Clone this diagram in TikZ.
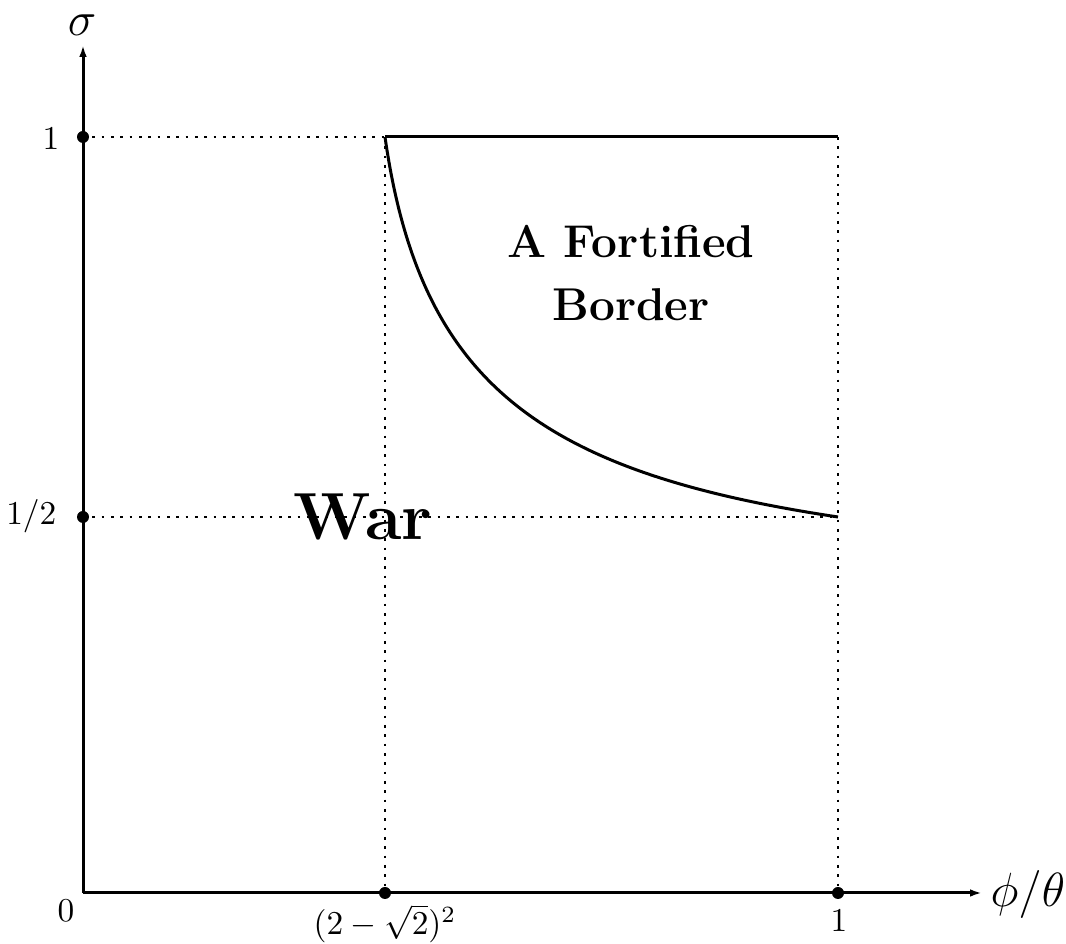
\documentclass[tikz,border=0pt]{standalone}
\usetikzlibrary{arrows.meta}
\begin{document}
\begin{tikzpicture}[x=0.3pt,y=-0.3pt,
  axis/.style={line width=0.9pt,-{Latex[length=3.6pt,width=2.3pt]}},
  guide/.style={line width=0.8pt,dash pattern=on 0.8pt off 2pt},
  bound/.style={line width=0.9pt},
  dot/.style={circle,fill=black,inner sep=0pt,minimum size=3.6pt},
  tick/.style={inner sep=0pt,font=\fontsize{9.6}{12}\selectfont},
  axlab/.style={inner sep=0pt,font=\fontsize{14}{17}\selectfont},
  region/.style={inner sep=0pt,font=\fontsize{13.8}{16}\selectfont\bfseries},
  bigregion/.style={inner sep=0pt,font=\fontsize{20}{24}\selectfont\bfseries}]
\useasboundingbox (0,0) rectangle (1066,944);
% coordinates
\coordinate (O) at (83,893);
\coordinate (ytip) at (83,45);
\coordinate (xtip) at (982,893);
\coordinate (y1) at (83,137);
\coordinate (yh) at (83,517);
\coordinate (xa) at (385,893);
\coordinate (x1) at (838,893);
\coordinate (A) at (385,137);
\coordinate (B) at (838,137);
\coordinate (C) at (838,517);
% guides
\draw[guide] (y1) -- (A);
\draw[guide] (yh) -- (C);
\draw[guide] (A) -- (xa);
\draw[guide] (B) -- (x1);
% axes
\draw[axis] (O) -- (xtip);
\draw[axis] (O) -- (ytip);
% boundary
\draw[bound] (A) -- (B);
\draw[bound] (A) .. controls (420,382) and (538,472) .. (C);
% dots
\node[dot] (d1) at (y1) {};
\node[dot] (d2) at (yh) {};
\node[dot] (d3) at (xa) {};
\node[dot] (d4) at (x1) {};
% labels
\node[axlab,anchor=base] (sig) at (82,36) {$\sigma$};
\node[axlab,anchor=base west] (phth) at (990,907) {$\phi/\theta$};
\node[tick,anchor=east] (l1) at (60,139) {$1$};
\node[tick,anchor=base east] (lh) at (57,525) {$1/2$};
\node[tick,anchor=base east] (l0) at (75,922) {$0$};
\node[tick,anchor=base] (la) at (385,935) {$(2-\sqrt{2})^2$};
\node[tick,anchor=base] (lx1) at (839,932) {$1$};
\node[region,anchor=base] (r1) at (631,258) {A Fortified};
\node[region,anchor=base] (r2) at (631,321) {Border};
\node[bigregion,anchor=base] (war) at (363,540) {War};
\end{tikzpicture}
\end{document}
